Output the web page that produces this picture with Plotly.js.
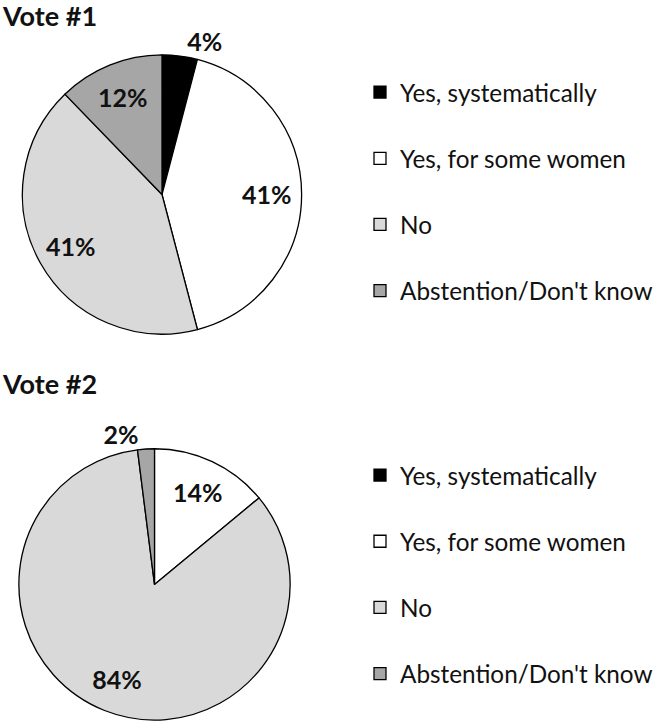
<!DOCTYPE html>
<html>
<head>
<meta charset="utf-8">
<script src="https://cdn.plot.ly/plotly-3.0.1.min.js"></script>
<style>html,body{margin:0;padding:0;background:#fff;}#chart{width:659px;height:728px;}</style>
</head>
<body>
<div id="chart"></div>
<script>
const categories = ["Yes, systematically", "Yes, for some women", "No", "Abstention/Don't know"];
const vote1Values = [4, 41, 41, 12];
const vote2Values = [0, 14, 84, 2];
const chartTitles = ["Vote #1", "Vote #2"];
const sliceColors = ["#000000", "#ffffff", "#d9d9d9", "#a6a6a6"];

const legendLabels = categories.map(c => c + "<br> ");
const labelFont = {family: "Lato, 'Open Sans', sans-serif", size: 25, color: "#111", weight: "bold"};

function pieSlices(values, domain, legendId, group) {
  return {
    type: "pie",
    labels: legendLabels,
    values: values,
    sort: false,
    direction: "clockwise",
    rotation: 0,
    marker: {colors: sliceColors, line: {color: "#000", width: 1.3}},
    textinfo: "none",
    hoverinfo: "skip",
    domain: domain,
    legend: legendId,
    legendgroup: group,
    showlegend: true
  };
}

function pieLabels(values, domain, positions) {
  return {
    type: "pie",
    labels: categories,
    values: values,
    sort: false,
    direction: "clockwise",
    rotation: 0,
    hole: 0.5,
    marker: {colors: categories.map(() => "rgba(0,0,0,0)"), line: {width: 0}},
    textposition: positions,
    texttemplate: values.map(v => v > 0 ? v + "%" : ""),
    insidetextorientation: "horizontal",
    textfont: labelFont,
    insidetextfont: labelFont,
    outsidetextfont: labelFont,
    hoverinfo: "skip",
    domain: domain,
    showlegend: false
  };
}

const dom1 = {x: [22/659, 302/659], y: [1 - 335/728, 1 - 55/728]};
const dom2 = {x: [18.5/659, 290.5/659], y: [1 - 722/728, 1 - 450/728]};

const data = [
  pieSlices(vote1Values, dom1, "legend", "vote1"),
  pieSlices(vote2Values, dom2, "legend2", "vote2"),
  pieLabels(vote1Values, dom1, ["outside", "inside", "inside", "inside"]),
  pieLabels(vote2Values, dom2, ["none", "inside", "inside", "outside"])
];

const legendCommon = {
  font: {family: "Lato, 'Open Sans', sans-serif", size: 24.3, color: "#111"},
  valign: "top",
  xanchor: "left",
  yanchor: "top",
  bgcolor: "rgba(0,0,0,0)",
  traceorder: "normal"
};

const titleFont = {family: "Lato, 'Open Sans', sans-serif", size: 27, color: "#111", weight: "bold"};

const layout = {
  width: 659,
  height: 728,
  margin: {l: 0, r: 0, t: 0, b: 0},
  paper_bgcolor: "#fff",
  showlegend: true,
  legend: Object.assign({}, legendCommon, {x: 360/659, y: 1 - 70/728}),
  legend2: Object.assign({}, legendCommon, {x: 360/659, y: 1 - 454/728}),
  annotations: [
    {text: chartTitles[0], xref: "paper", yref: "paper", x: 0, y: 1 - 16/728, xanchor: "left", yanchor: "middle", showarrow: false, font: titleFont},
    {text: chartTitles[1], xref: "paper", yref: "paper", x: 0, y: 1 - 385/728, xanchor: "left", yanchor: "middle", showarrow: false, font: titleFont}
  ]
};

Plotly.newPlot("chart", data, layout, {displayModeBar: false, staticPlot: true});
</script>
</body>
</html>
